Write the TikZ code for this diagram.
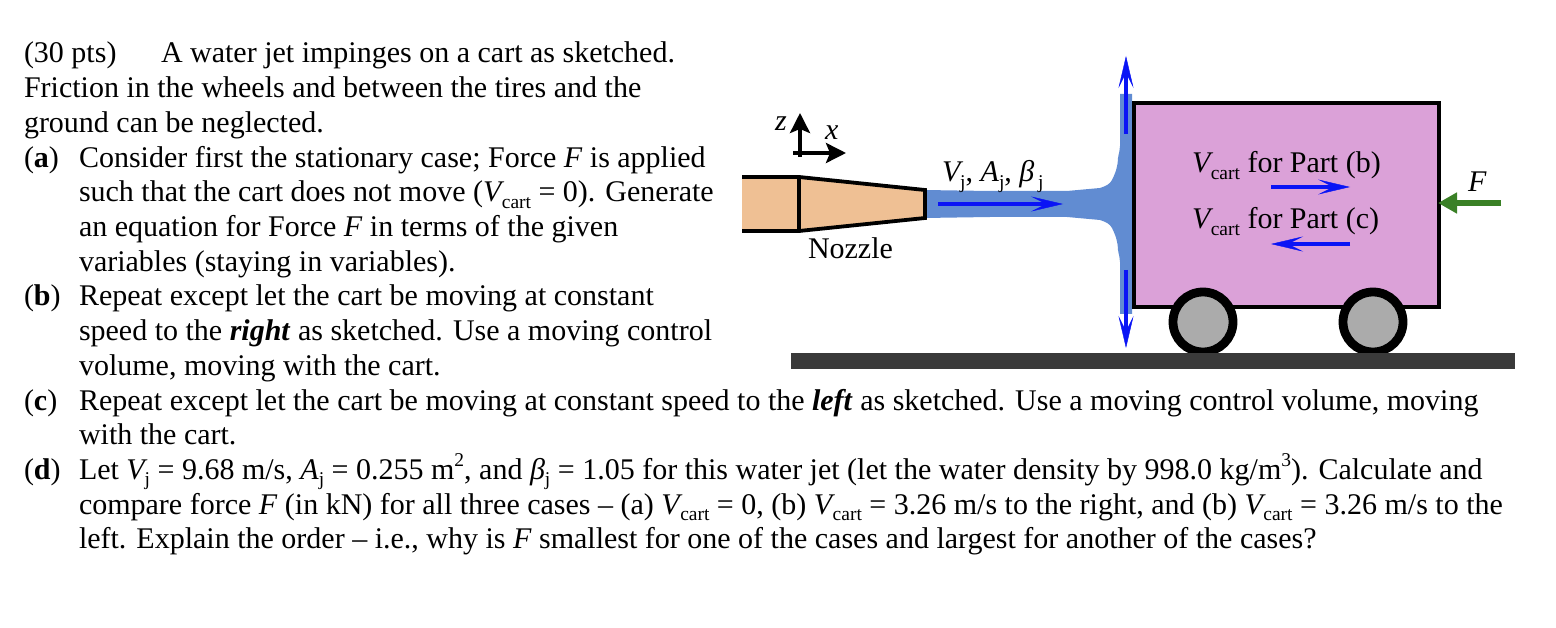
\documentclass[tikz,border=0pt]{standalone}
\usepackage{fontspec}
\setmainfont{Liberation Serif}
\usetikzlibrary{arrows.meta}
\definecolor{jetc}{HTML}{618CD2}
\definecolor{nozc}{HTML}{EFC094}
\definecolor{cartc}{HTML}{DBA1D8}
\definecolor{wheelc}{HTML}{ABABAB}
\definecolor{groundc}{HTML}{3A3A3A}
\definecolor{greenc}{HTML}{3A8026}
\definecolor{bluec}{HTML}{0A14F5}
\newcommand{\lo}[1]{\raisebox{-0.22em}{\fontsize{19.5}{19.5}\selectfont #1}}
\newcommand{\hi}[1]{\raisebox{0.42em}{\fontsize{19.5}{19.5}\selectfont #1}}
\newcommand{\vcart}{\textit{V}\kern-0.08em\lo{cart}}
\newcommand{\vj}{\textit{V}\kern-0.1em\lo{j}}
\tikzset{x=1pt,y=-1pt,
  txt/.style={inner sep=0pt,outer sep=0pt,anchor=base west,font=\fontsize{30}{33}\selectfont},
  bluearrow/.style={draw=bluec,line width=4.6pt,-{Stealth[length=32pt,width=15pt,inset=15pt,line width=0.4pt,fill=bluec]}},
  axisarrow/.style={draw=black,line width=3.6pt,-{Stealth[length=20pt,width=20pt,inset=4pt]}},
  outline/.style={draw=black,line width=3.8pt,miter limit=10},
}
\begin{document}
\begin{tikzpicture}
\useasboundingbox (0,0) rectangle (1556,628);
% text
\node[txt] (t1) at (24,63) {(30 pts)};
\node[txt] (t1b) at (161,63) {A water jet impinges on a cart as sketched.};
\node[txt] (t2) at (24,98) {Friction in the wheels and between the tires and the};
\node[txt] (t3) at (24,133) {ground can be neglected.};
\node[txt] (la) at (24,168) {(\textbf{a})};
\node[txt] (t4) at (79,168) {Consider first the stationary case; Force \textit{F} is applied};
\node[txt] (t5) at (79,202) {such that the cart does not move (\vcart{} = 0). Generate};
\node[txt] (t6) at (79,237) {an equation for Force \textit{F} in terms of the given};
\node[txt] (t7) at (79,272) {variables (staying in variables).};
\node[txt] (lb) at (24,306) {(\textbf{b})};
\node[txt] (t8) at (79,306) {Repeat except let the cart be moving at constant};
\node[txt] (t9) at (79,341) {speed to the \textbf{\textit{right}} as sketched. Use a moving control};
\node[txt] (t10) at (79,375) {volume, moving with the cart.};
\node[txt] (lc) at (24,410) {(\textbf{c})};
\node[txt] (t11) at (79,410) {Repeat except let the cart be moving at constant speed to the \textbf{\textit{left}} as sketched. Use a moving control volume, moving};
\node[txt] (t12) at (79,444) {with the cart.};
\node[txt] (ld) at (24,479) {(\textbf{d})};
\node[txt] (t13) at (79,479) {Let \vj{} = 9.68 m/s, \textit{A}\lo{j} = 0.255 m\hi{2}, and \textit{β}\lo{j} = 1.05 for this water jet (let the water density by 998.0 kg/m\hi{3}). Calculate and};
\node[txt] (t14) at (79,514) {compare force \textit{F} (in kN) for all three cases – (a) \vcart{} = 0, (b) \vcart{} = 3.26 m/s to the right, and (b) \vcart{} = 3.26 m/s to the};
\node[txt] (t15) at (79,548) {left. Explain the order – i.e., why is \textit{F} smallest for one of the cases and largest for another of the cases?};
% jet
\fill[jetc] (924,190) -- (990,191) -- (1067,191) -- (1100,188)
  .. controls (1106,186) and (1110,184) .. (1112,180)
  .. controls (1116,172) and (1118,165) .. (1118,158)
  .. controls (1119,152) and (1120,150) .. (1120,146) -- (1120,94) -- (1132,94)
  -- (1132,314) -- (1120,314) -- (1120,262)
  .. controls (1120,258) and (1119,256) .. (1118,250)
  .. controls (1118,243) and (1116,236) .. (1112,228)
  .. controls (1110,224) and (1106,222) .. (1100,220)
  -- (1067,217) -- (990,217) -- (924,218) -- cycle;
% nozzle
\path[fill=nozc] (742,177) -- (799,177) -- (925,190) -- (925,218) -- (799,231) -- (742,231) -- cycle;
\draw[outline] (742,177) -- (799,177) -- (925,190) -- (925,218) -- (799,231) -- (742,231);
\draw[outline] (799,177) -- (799,231);
% cart
\node[draw=black,fill=cartc,line width=4pt,minimum width=305pt,minimum height=204pt,inner sep=0pt,outer sep=0pt] (cart) at (1286.5,205) {};
\node[circle,draw=black,fill=wheelc,line width=8.8pt,minimum size=60pt,inner sep=0pt,outer sep=0pt] (w1) at (1203,322) {};
\node[circle,draw=black,fill=wheelc,line width=8.8pt,minimum size=60pt,inner sep=0pt,outer sep=0pt] (w2) at (1373,322) {};
\node[fill=groundc,minimum width=724pt,minimum height=16pt,inner sep=0pt,outer sep=0pt] (ground) at (1153,361) {};
% arrows
\coordinate (ja) at (938,204); \coordinate (jb) at (1063,204);
\coordinate (ua) at (1126,134); \coordinate (ub) at (1126,56);
\coordinate (da) at (1126,270); \coordinate (db) at (1126,348);
\coordinate (ba) at (1271,187); \coordinate (bb) at (1350,187);
\coordinate (ca) at (1350,244); \coordinate (cb) at (1271,244);
\coordinate (fa) at (1501,203); \coordinate (fb) at (1438,203);
\coordinate (za) at (800,157); \coordinate (zb) at (800,113);
\coordinate (xa) at (793,153); \coordinate (xb) at (846,153);
\draw[bluearrow] (ja) -- (jb);
\draw[bluearrow] (ua) -- (ub);
\draw[bluearrow] (da) -- (db);
\draw[bluearrow] (ba) -- (bb);
\draw[bluearrow] (ca) -- (cb);
\draw[draw=greenc,line width=6pt,-{Triangle[length=19pt,width=20pt]}] (fa) -- (fb);
\draw[axisarrow] (za) -- (zb);
\draw[axisarrow] (xa) -- (xb);
% labels
\node[txt] (lz) at (775,131) {\textit{z}};
\node[txt] (lx) at (825,140) {\textit{x}};
\node[txt] (noz) at (808,259) {Nozzle};
\node[txt] (lv) at (942,182) {\vj, \textit{A}\lo{j}, \textit{β}\kern0.12em\lo{j}};
\node[txt] (lpb) at (1192,173) {\vcart{} for Part (b)};
\node[txt] (lpc) at (1192,229) {\vcart{} for Part (c)};
\node[txt] (lf) at (1468,192) {\textit{F}};
\end{tikzpicture}
\end{document}
